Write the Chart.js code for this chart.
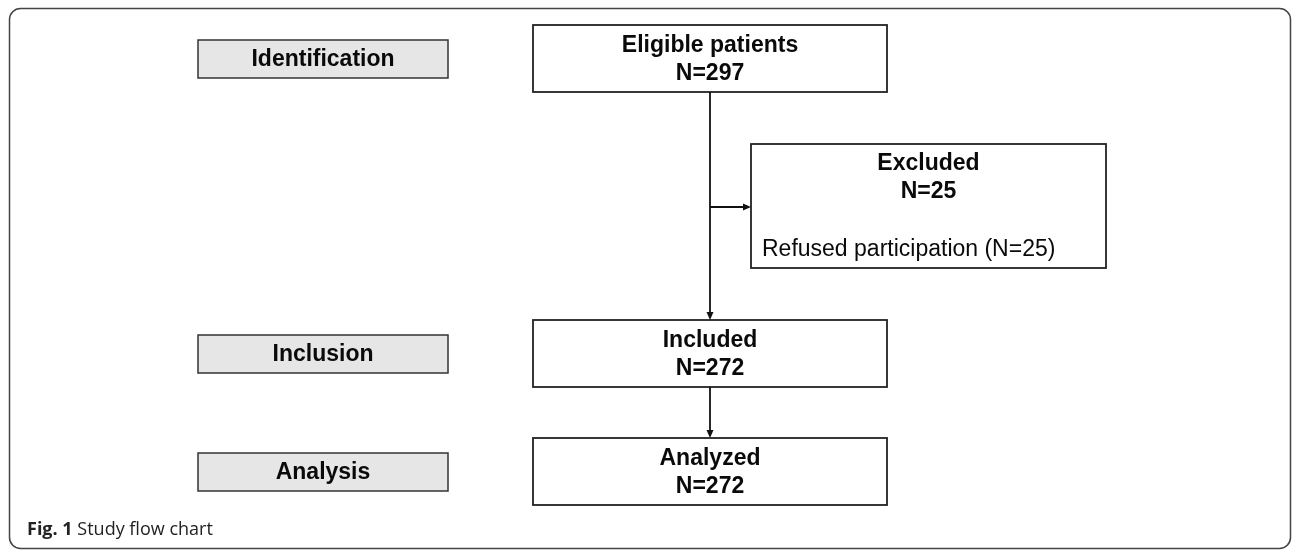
<!DOCTYPE html>
<html>
<head>
<meta charset="utf-8">
<script src="https://cdn.jsdelivr.net/npm/chart.js@4"></script>
<style>
  html, body { margin: 0; padding: 0; background: #fff; }
  #wrap { width: 1292px; height: 550px; position: relative; }
</style>
</head>
<body>
<div id="wrap"><canvas id="flow"></canvas></div>
<script>
// Données du diagramme de flux
const stages = ['Identification', 'Inclusion', 'Analysis'];
const steps = ['Eligible patients', 'Included', 'Analyzed'];
const counts = [297, 272, 272];
const excludedTitle = 'Excluded';
const excludedCount = 25;
const excludedReasons = ['Refused participation'];
const reasonCounts = [25];

// Mise en page (coordonnées de l'image, y vers le bas)
const layout = {
    frame: { x0: 9, y0: 8, x1: 1292, y1: 550, r: 11 },
    stageBox: { x0: 198, x1: 448, y: [40, 335, 453], h: 38 },
    stepBox: { x0: 533, x1: 887, y: [25, 320, 438], h: 67 },
    exclBox: { x0: 751, x1: 1106, y0: 144, y1: 268 },
    branchY: 207,
    caption: { x: 27, y: 535 }
};

const boldFont = 'bold 23px "Liberation Sans", Arial, sans-serif';
const normalFont = '23px "Liberation Sans", Arial, sans-serif';

function arrowDown(ctx, x, yTip) {
    ctx.beginPath();
    ctx.moveTo(x, yTip);
    ctx.lineTo(x - 3.5, yTip - 8);
    ctx.lineTo(x + 3.5, yTip - 8);
    ctx.closePath();
    ctx.fill();
}

function arrowRight(ctx, xTip, y) {
    ctx.beginPath();
    ctx.moveTo(xTip, y);
    ctx.lineTo(xTip - 8, y - 3.5);
    ctx.lineTo(xTip - 8, y + 3.5);
    ctx.closePath();
    ctx.fill();
}

const flowPlugin = {
    id: 'flow',
    afterDraw(chart) {
        const ctx = chart.ctx;
        const sx = chart.scales.x, sy = chart.scales.y;
        const px = v => sx.getPixelForValue(v);
        const py = v => sy.getPixelForValue(v);
        ctx.save();

        // Cadre arrondi
        const f = layout.frame;
        ctx.strokeStyle = '#444';
        ctx.lineWidth = 1.5;
        ctx.beginPath();
        ctx.roundRect(px(f.x0) + 0.5, py(f.y0) + 0.5, px(f.x1) - px(f.x0) - 2, py(f.y1) - py(f.y0) - 2, f.r);
        ctx.stroke();

        // Cases des étapes (gris)
        const sb = layout.stageBox;
        stages.forEach((label, i) => {
            const x0 = px(sb.x0), y0 = py(sb.y[i]);
            const w = px(sb.x1) - x0, h = py(sb.y[i] + sb.h) - y0;
            ctx.fillStyle = '#e6e6e6';
            ctx.fillRect(x0, y0, w, h);
            ctx.strokeStyle = '#333';
            ctx.lineWidth = 1.5;
            ctx.strokeRect(x0, y0, w, h);
            ctx.fillStyle = '#0a0a0a';
            ctx.font = boldFont;
            ctx.textAlign = 'center';
            ctx.textBaseline = 'middle';
            ctx.fillText(label, x0 + w / 2, y0 + h / 2 + 1);
        });

        // Cases principales
        const mb = layout.stepBox;
        const cx = (px(mb.x0) + px(mb.x1)) / 2;
        steps.forEach((label, i) => {
            const x0 = px(mb.x0), y0 = py(mb.y[i]);
            const w = px(mb.x1) - x0, h = py(mb.y[i] + mb.h) - y0;
            ctx.fillStyle = '#fff';
            ctx.fillRect(x0, y0, w, h);
            ctx.strokeStyle = '#222';
            ctx.lineWidth = 1.8;
            ctx.strokeRect(x0, y0, w, h);
            ctx.fillStyle = '#0a0a0a';
            ctx.font = boldFont;
            ctx.textAlign = 'center';
            ctx.textBaseline = 'middle';
            ctx.fillText(label, cx, y0 + h / 2 - 13);
            ctx.fillText('N=' + counts[i], cx, y0 + h / 2 + 15);
        });

        // Case des exclus
        const eb = layout.exclBox;
        const ex0 = px(eb.x0), ey0 = py(eb.y0);
        const ew = px(eb.x1) - ex0, eh = py(eb.y1) - ey0;
        ctx.strokeStyle = '#222';
        ctx.lineWidth = 1.8;
        ctx.strokeRect(ex0, ey0, ew, eh);
        ctx.fillStyle = '#0a0a0a';
        ctx.font = boldFont;
        ctx.textAlign = 'center';
        ctx.fillText(excludedTitle, ex0 + ew / 2, ey0 + 20);
        ctx.fillText('N=' + excludedCount, ex0 + ew / 2, ey0 + 48);
        ctx.font = normalFont;
        ctx.textAlign = 'left';
        excludedReasons.forEach((r, i) => {
            ctx.fillText(r + ' (N=' + reasonCounts[i] + ')', ex0 + 11, ey0 + 106 + i * 28);
        });

        // Flèches
        ctx.strokeStyle = '#111';
        ctx.fillStyle = '#111';
        ctx.lineWidth = 1.8;
        const topBottom = py(mb.y[0] + mb.h);
        const inclTop = py(mb.y[1]);
        ctx.beginPath();
        ctx.moveTo(cx, topBottom);
        ctx.lineTo(cx, inclTop - 6);
        ctx.stroke();
        arrowDown(ctx, cx, inclTop);

        const by = py(layout.branchY);
        ctx.beginPath();
        ctx.moveTo(cx, by);
        ctx.lineTo(ex0 - 6, by);
        ctx.stroke();
        arrowRight(ctx, ex0, by);

        const inclBottom = py(mb.y[1] + mb.h);
        const analTop = py(mb.y[2]);
        ctx.beginPath();
        ctx.moveTo(cx, inclBottom);
        ctx.lineTo(cx, analTop - 6);
        ctx.stroke();
        arrowDown(ctx, cx, analTop);

        // Légende de la figure
        const c = layout.caption;
        ctx.textAlign = 'left';
        ctx.textBaseline = 'alphabetic';
        ctx.fillStyle = '#222';
        ctx.font = 'bold 18px "Open Sans", sans-serif';
        const figLabel = 'Fig. 1';
        ctx.fillText(figLabel, px(c.x), py(c.y));
        const wFig = ctx.measureText(figLabel + ' ').width;
        ctx.font = '18px "Open Sans", sans-serif';
        ctx.fillText('Study flow chart', px(c.x) + wFig, py(c.y));

        ctx.restore();
    }
};

document.addEventListener('DOMContentLoaded', function() {
    new Chart(document.getElementById('flow'), {
        type: 'scatter',
        data: { datasets: [] },
        options: {
            responsive: true,
            maintainAspectRatio: false,
            animation: false,
            devicePixelRatio: 1,
            layout: { padding: 0 },
            plugins: { legend: { display: false }, tooltip: { enabled: false } },
            scales: {
                x: { type: 'linear', min: 0, max: 1292, display: false },
                y: { type: 'linear', min: 0, max: 550, reverse: true, display: false }
            }
        },
        plugins: [flowPlugin]
    });
});
</script>
</body>
</html>
